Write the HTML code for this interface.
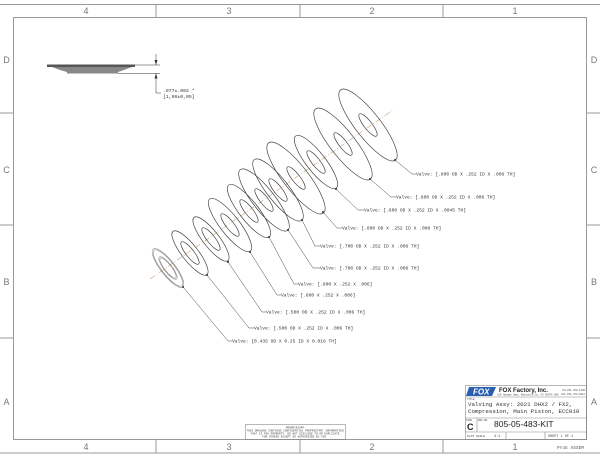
<!DOCTYPE html>
<html><head><meta charset="utf-8"><style>
html,body{margin:0;padding:0;background:#fff;}
svg{display:block;font-family:"Liberation Mono",monospace;}
</style></head><body>
<svg width="600" height="463" viewBox="0 0 600 463" xmlns="http://www.w3.org/2000/svg">
<g stroke="#9a9a9a" stroke-width="1" fill="none">
<line x1="0" y1="4.5" x2="600" y2="4.5"/>
<line x1="0" y1="453" x2="600" y2="453"/>
<rect x="13.5" y="17.5" width="573" height="422"/>
<line x1="156" y1="4" x2="156" y2="17"/><line x1="300" y1="4" x2="300" y2="17"/><line x1="443" y1="4" x2="443" y2="17"/>
<line x1="156" y1="440" x2="156" y2="453"/><line x1="300" y1="440" x2="300" y2="453"/><line x1="443" y1="440" x2="443" y2="453"/>
<line x1="0" y1="113" x2="13" y2="113"/><line x1="0" y1="225" x2="13" y2="225"/><line x1="0" y1="338" x2="13" y2="338"/>
<line x1="587" y1="113" x2="600" y2="113"/><line x1="587" y1="225" x2="600" y2="225"/><line x1="587" y1="338" x2="600" y2="338"/>
</g>
<g font-family="Liberation Sans,sans-serif" font-size="9" fill="#777" text-anchor="middle">
<text x="86" y="14">4</text><text x="229" y="14">3</text><text x="372" y="14">2</text><text x="515" y="14">1</text>
<text x="86" y="450">4</text><text x="229" y="450">3</text><text x="372" y="450">2</text><text x="515" y="450">1</text>
<text x="6.5" y="63">D</text><text x="6.5" y="173">C</text><text x="6.5" y="285">B</text><text x="6.5" y="405">A</text>
<text x="594" y="63">D</text><text x="594" y="173">C</text><text x="594" y="285">B</text><text x="594" y="405">A</text>
</g>
<text x="584" y="449" font-size="4.5" fill="#555" text-anchor="end">ProE ASSEM</text>

<rect x="47" y="64.5" width="88" height="2.5" fill="#555"/>
<polygon points="52,67 132,67 124,70 118,72 118,73.5 67,73.5 67,72 60,70" fill="#888"/>
<g stroke="#333" stroke-width="0.5" fill="none">
<line x1="135" y1="65" x2="160" y2="65"/><line x1="118" y1="73.5" x2="160" y2="73.5"/>
<line x1="156" y1="54" x2="156" y2="65"/><line x1="156" y1="73.5" x2="156" y2="93"/><line x1="156" y1="93" x2="161" y2="93"/>
</g>
<polygon points="154.5,60 157.5,60 156,65" fill="#333"/><polygon points="154.5,78.5 157.5,78.5 156,73.5" fill="#333"/>
<text x="163" y="92" font-size="4.8" fill="#333">.077±.002  *</text>
<text x="163" y="98" font-size="4.8" fill="#333">[1,96±0,05]</text>

<line x1="150" y1="279" x2="393" y2="110" stroke="#c8a070" stroke-width="0.6" stroke-dasharray="6,2,1,2"/>

<g stroke="#444" stroke-width="0.7" fill="none">
<g transform="translate(368,125) rotate(52)"><ellipse rx="44.5" ry="12.5"/><ellipse rx="14" ry="4"/></g>
<g transform="translate(343,144) rotate(52)"><ellipse rx="44.5" ry="12.5"/><ellipse rx="14" ry="4"/></g>
<g transform="translate(316,162) rotate(52)"><ellipse rx="33" ry="9.5"/><ellipse rx="14" ry="4"/></g>
<g transform="translate(296,178) rotate(52)"><ellipse rx="44.5" ry="12.5"/><ellipse rx="14" ry="4"/></g>
<g transform="translate(278,190) rotate(52)"><ellipse rx="38.5" ry="11"/><ellipse rx="14" ry="4"/></g>
<g transform="translate(264,200) rotate(52)"><ellipse rx="38.5" ry="11"/><ellipse rx="14" ry="4"/></g>
<g transform="translate(249,211) rotate(52)"><ellipse rx="33" ry="9.5"/><ellipse rx="14" ry="4"/></g>
<g transform="translate(230,225) rotate(52)"><ellipse rx="33" ry="9.5"/><ellipse rx="14" ry="4"/></g>
<g transform="translate(211,239) rotate(52)"><ellipse rx="27.5" ry="8"/><ellipse rx="14" ry="4"/></g>
<g transform="translate(190,253) rotate(52)"><ellipse rx="27.5" ry="8"/><ellipse rx="14" ry="4"/></g>
<g transform="translate(168,268) rotate(52)" stroke="#777" stroke-width="0.5"><ellipse rx="24" ry="7.2"/><ellipse rx="22.5" ry="6.4"/><ellipse rx="14" ry="4"/><ellipse rx="12.5" ry="3.4"/></g>
</g>

<g stroke="#444" stroke-width="0.5" fill="none">
<polyline points="395,160 412,174 416,174"/>
<polyline points="370,179 391,197 396,197"/>
<polyline points="336,189 358,210 364,210"/>
<polyline points="323,212 337,228 342,228"/>
<polyline points="302,220 315,246 320,246"/>
<polyline points="288,230 313,268 320,268"/>
<polyline points="269,237 294,284 298,284"/>
<polyline points="250,252 277,295 281,295"/>
<polyline points="228,262 262,312 266,312"/>
<polyline points="207,275 249,328 254,328"/>
<polyline points="183,287 228,341 232,341"/>
</g>
<g fill="#333">
<circle cx="395" cy="160" r="1"/><circle cx="370" cy="179" r="1"/><circle cx="336" cy="189" r="1"/><circle cx="323" cy="212" r="1"/>
<circle cx="302" cy="220" r="1"/><circle cx="288" cy="230" r="1"/><circle cx="269" cy="237" r="1"/><circle cx="250" cy="252" r="1"/>
<circle cx="228" cy="262" r="1"/><circle cx="207" cy="275" r="1"/><circle cx="183" cy="287" r="1"/>
</g>
<g font-size="4.6" fill="#333">
<text x="416" y="175.5">Valve: [.800 OD X .252 ID X .006 TH]</text>
<text x="396" y="198.5">Valve: [.800 OD X .252 ID X .006 TH]</text>
<text x="364" y="211.5">Valve: [.600 OD X .252 ID X .0045 TH]</text>
<text x="342" y="229.5">Valve: [.800 OD X .252 ID X .008 TH]</text>
<text x="320" y="247.5">Valve: [.700 OD X .252 ID X .006 TH]</text>
<text x="320" y="269.5">Valve: [.700 OD X .252 ID X .006 TH]</text>
<text x="298" y="285.5">Valve: [.600 X .252 X .006]</text>
<text x="281" y="296.5">Valve: [.600 X .252 X .006]</text>
<text x="266" y="313.5">Valve: [.500 OD X .252 ID X .006 TH]</text>
<text x="254" y="329.5">Valve: [.500 OD X .252 ID X .006 TH]</text>
<text x="232" y="342.5">Valve: [0.435 OD X 0.25 ID X 0.016 TH]</text>
</g>

<rect x="245.5" y="424.5" width="100" height="15" fill="none" stroke="#888" stroke-width="0.6"/>
<g font-size="2.8" fill="#444" text-anchor="middle">
<text x="295" y="428.5">PROPRIETARY</text>
<text x="295" y="431.5">THIS DRAWING CONTAINS CONFIDENTIAL PROPRIETARY INFORMATION</text>
<text x="295" y="434.5">THAT IS FOX PROPERTY. DO NOT DISCLOSE TO OR DUPLICATE</text>
<text x="295" y="437.5">FOR OTHERS EXCEPT AS AUTHORIZED BY FOX.</text>
</g>

<g stroke="#888" stroke-width="0.6" fill="none">
<rect x="465.5" y="385.5" width="121" height="54"/>
<line x1="465" y1="397" x2="587" y2="397"/>
<line x1="465" y1="418" x2="587" y2="418"/>
<line x1="465" y1="432" x2="587" y2="432"/>
<line x1="477" y1="418" x2="477" y2="432"/>
<line x1="506" y1="432" x2="506" y2="440"/>
<line x1="545" y1="432" x2="545" y2="440"/>
</g>
<polygon points="469,387 496,387 492,396 466,396" fill="#2a5fb0"/>
<text x="473" y="394.5" font-family="Liberation Sans,sans-serif" font-size="8" font-weight="bold" font-style="italic" fill="#fff">FOX</text>
<text x="499" y="392" font-family="Liberation Sans,sans-serif" font-size="6" font-weight="bold" fill="#222">FOX Factory, Inc.</text>
<text x="497" y="395.5" font-size="2.5" fill="#444">130 Hangar Way, Watsonville, CA 95076 USA</text>
<text x="585" y="391" font-size="2.5" fill="#444" text-anchor="end">PH 831-768-1100</text>
<text x="585" y="395" font-size="2.5" fill="#444" text-anchor="end">FAX 831-768-9312</text>
<text x="467" y="400" font-size="2.5" fill="#444">TITLE</text>
<text x="468" y="406" font-size="5.8" fill="#333">Valving Assy: 2021 DHX2 / FX2,</text>
<text x="468" y="413" font-size="5.8" fill="#333">Compression, Main Piston, ECC010</text>
<text x="466" y="421" font-size="2.5" fill="#444">SIZE</text>
<text x="478" y="421" font-size="2.5" fill="#444">DWG NO.</text>
<text x="467" y="430" font-family="Liberation Sans,sans-serif" font-size="9" font-weight="bold" fill="#222">C</text>
<text x="494" y="427" font-family="Liberation Sans,sans-serif" font-size="8.5" fill="#222">805-05-483-KIT</text>
<text x="467" y="437" font-size="3" fill="#444">PLOT SCALE</text>
<text x="494" y="437" font-size="3.5" fill="#444">4:1</text>
<text x="548" y="437" font-size="3.5" fill="#444">SHEET 1 OF 1</text>
</svg>
</body></html>
